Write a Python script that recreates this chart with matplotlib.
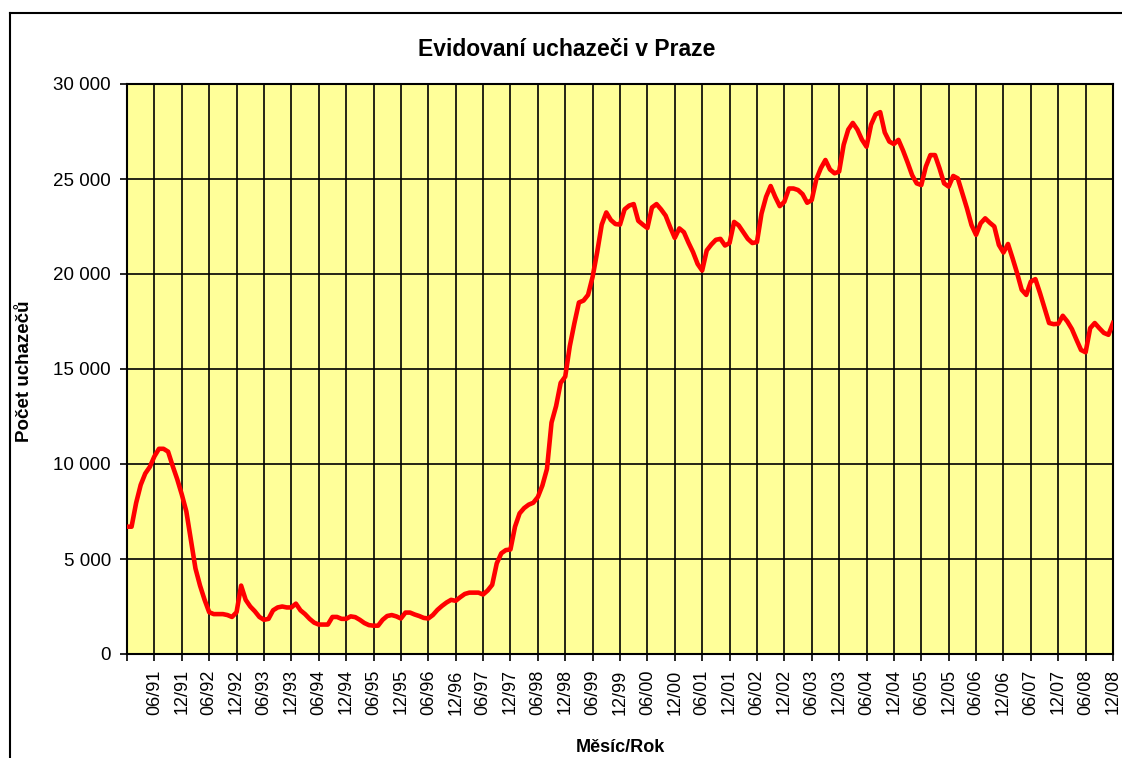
import numpy as np
import matplotlib.pyplot as plt
from matplotlib.ticker import FuncFormatter
from matplotlib.lines import Line2D

plt.rcParams['font.family'] = ['Liberation Sans', 'DejaVu Sans']

# pocet evidovanych uchazecu, mesicne od 12/90 do 12/08
y1990 = [6700]
y1991 = [6700, 7950, 8900, 9500, 9850, 10400, 10800, 10800, 10650, 9900, 9200, 8400]
y1992 = [7500, 6000, 4500, 3600, 2850, 2200, 2100, 2100, 2100, 2050, 1950, 2200]
y1993 = [3600, 2850, 2500, 2250, 1950, 1800, 1850, 2300, 2450, 2500, 2450, 2450]
y1994 = [2650, 2300, 2100, 1850, 1650, 1550, 1550, 1550, 1950, 1950, 1850, 1850]
y1995 = [1980, 1940, 1800, 1630, 1520, 1490, 1490, 1800, 2000, 2050, 1980, 1870]
y1996 = [2180, 2180, 2080, 2000, 1900, 1870, 2050, 2320, 2530, 2710, 2850, 2800]
y1997 = [2990, 3160, 3230, 3230, 3230, 3130, 3340, 3640, 4770, 5300, 5470, 5500]
y1998 = [6700, 7400, 7680, 7860, 7960, 8260, 8870, 9740, 12180, 13050, 14270, 14600]
y1999 = [16200, 17400, 18500, 18600, 18900, 19850, 21150, 22600, 23240, 22840, 22630, 22600]
y2000 = [23400, 23600, 23680, 22800, 22600, 22420, 23500, 23680, 23400, 23070, 22460, 21900]
y2001 = [22400, 22200, 21650, 21150, 20530, 20180, 21240, 21550, 21800, 21850, 21500, 21630]
y2002 = [22740, 22560, 22200, 21850, 21630, 21680, 23180, 24060, 24630, 24060, 23570, 23800]
y2003 = [24500, 24500, 24420, 24200, 23750, 23890, 24980, 25570, 26000, 25500, 25300, 25390]
y2004 = [26800, 27600, 27950, 27600, 27070, 26700, 27860, 28400, 28520, 27450, 26970, 26840]
y2005 = [27060, 26500, 25870, 25200, 24770, 24680, 25650, 26260, 26260, 25560, 24770, 24600]
y2006 = [25160, 25030, 24250, 23460, 22580, 22060, 22670, 22930, 22700, 22500, 21530, 21130]
y2007 = [21580, 20830, 20040, 19170, 18900, 19600, 19730, 19000, 18200, 17420, 17360, 17380]
y2008 = [17800, 17500, 17100, 16540, 16000, 15880, 17150, 17420, 17150, 16900, 16800, 17420]

years = list(range(1991, 2009))

uchazeci = np.array(y1990 + y1991 + y1992 + y1993 + y1994 + y1995 + y1996 + y1997 + y1998
                    + y1999 + y2000 + y2001 + y2002 + y2003 + y2004 + y2005 + y2006
                    + y2007 + y2008)
n = np.arange(len(uchazeci))

tick_pos = np.arange(0, len(uchazeci), 6)
tick_lab = [''] + ['%s/%02d' % (m, y % 100) for y in years for m in ('06', '12')]

fig = plt.figure(figsize=(11.22, 7.58), dpi=100)
ax = fig.add_axes([127/1122, 1 - 654/758, (1113 - 127)/1122, (654 - 84)/758])
ax.set_facecolor('#FFFF99')

ax.plot(n, uchazeci, color='#FF0000', linewidth=3.3, solid_joinstyle='round', zorder=3)

ax.set_xlim(0, len(uchazeci) - 1)
ax.set_ylim(0, 30000)
ax.set_yticks(np.arange(0, 30001, 5000))
ax.yaxis.set_major_formatter(FuncFormatter(lambda v, p: ('%d' % v) if v < 1000 else '%d %03d' % (v // 1000, v % 1000)))
ax.set_xticks(tick_pos)
ax.set_xticklabels(tick_lab, rotation=90)
ax.tick_params(axis='both', direction='out', length=5, width=1.2, labelsize=13.5, color='black')
ax.tick_params(axis='x', pad=6, labelsize=13)
ax.tick_params(axis='y', pad=6.5)
ax.grid(True, color='black', linewidth=1.2)
ax.set_axisbelow(True)
for s in ax.spines.values():
    s.set_linewidth(1.5)

fig.text(567/1122, 1 - 50/758, 'Evidovaní uchazeči v Praze', ha='center', va='center',
         fontsize=16.5, fontweight='bold')
fig.text(25/1122, 1 - 371/758, 'Počet uchazečů', ha='center', va='center', rotation=90,
         fontsize=13.5, fontweight='bold')
fig.text(620/1122, 1 - 748/758, 'Měsíc/Rok', ha='center', va='center',
         fontsize=13, fontweight='bold')

# ramecek grafu
fig.add_artist(Line2D([10/1122, 1], [1 - 13/758, 1 - 13/758], color='black', linewidth=1.5))
fig.add_artist(Line2D([10/1122, 10/1122], [0, 1 - 13/758], color='black', linewidth=1.5))

fig.savefig('out.png', dpi=100)
